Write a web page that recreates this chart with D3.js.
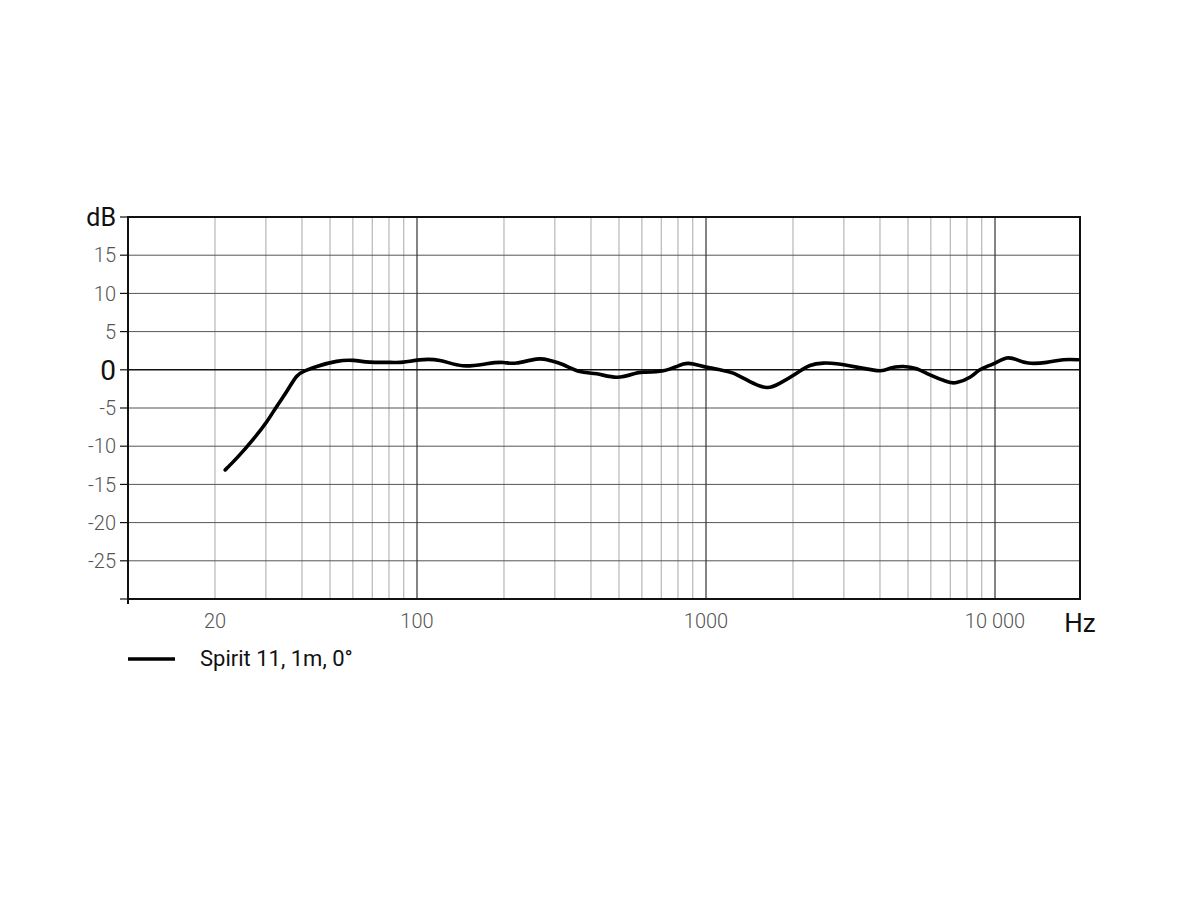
<!DOCTYPE html>
<html><head><meta charset="utf-8">
<script src="https://cdn.jsdelivr.net/npm/d3@7"></script>
<style>body{margin:0;background:#fff;} svg{display:block;}</style>
</head><body>
<script>
const freqs = [21.7,24.0,27.1,30.2,32.7,35.4,38.3,41.0,45.0,52.7,60.2,68.7,80.7,89.7,102,120,144,174,199,221,259,288,321,366,419,491,561,607,712,835,904,1000,1117,1241,1418,1622,1804,2059,2290,2546,2832,3321,3998,4331,4817,5356,5957,6805,7365,8190,8868,9865,10974,11880,13030,15090,17230,19410];
const dbValues = [-13.1,-11.4,-9.1,-6.8,-4.8,-2.85,-0.88,-0.13,0.44,1.1,1.23,1.0,0.97,1.0,1.3,1.22,0.53,0.79,0.96,0.88,1.4,1.22,0.66,-0.22,-0.53,-0.97,-0.53,-0.31,-0.13,0.75,0.75,0.35,0.0,-0.44,-1.54,-2.32,-1.75,-0.44,0.57,0.88,0.79,0.35,-0.13,0.22,0.44,0.13,-0.66,-1.54,-1.67,-0.97,0.0,0.79,1.54,1.32,0.88,0.97,1.32,1.32];
const yTicks = [15,10,5,0,-5,-10,-15,-20,-25];
const xTickValues = [20,100,1000,10000];
const xTickLabels = ["20","100","1000","10 000"];
const minorFreqs = [20,30,40,50,60,70,80,90,200,300,400,500,600,700,800,900,2000,3000,4000,5000,6000,7000,8000,9000];
const majorFreqs = [100,1000,10000];
const seriesName = "Spirit 11, 1m, 0°";

const W=1200,H=900;
const svg=d3.select("body").append("svg").attr("width",W).attr("height",H);
const L=128,R=1080,T=217,B=599;
const x=d3.scaleLog().domain([10,20000]).range([L,R+2]);
const y=d3.scaleLinear().domain([-30,20]).range([B,T]);
const font="Roboto, 'Noto Sans', sans-serif";

const g=svg.append("g");
g.selectAll(".vmin").data(minorFreqs).enter().append("line")
 .attr("x1",d=>x(d)).attr("x2",d=>x(d)).attr("y1",T).attr("y2",B)
 .attr("stroke","#a8a8a8").attr("stroke-width",1);
g.selectAll(".hg").data(yTicks.filter(d=>d!==0)).enter().append("line")
 .attr("x1",L).attr("x2",R).attr("y1",d=>y(d)).attr("y2",d=>y(d))
 .attr("stroke","#555").attr("stroke-width",1);
g.selectAll(".vmaj").data(majorFreqs).enter().append("line")
 .attr("x1",d=>x(d)).attr("x2",d=>x(d)).attr("y1",T).attr("y2",B)
 .attr("stroke","#333").attr("stroke-width",1.2);
g.append("line").attr("x1",L).attr("x2",R).attr("y1",y(0)).attr("y2",y(0))
 .attr("stroke","#111").attr("stroke-width",1.6);
g.append("rect").attr("x",L).attr("y",T).attr("width",R-L).attr("height",B-T)
 .attr("fill","none").attr("stroke","#111").attr("stroke-width",2);

g.selectAll(".lt").data(yTicks.concat([20,-30])).enter().append("line")
 .attr("x1",L-8).attr("x2",L).attr("y1",d=>y(d)).attr("y2",d=>y(d))
 .attr("stroke","#111").attr("stroke-width",1.2);
g.append("line").attr("x1",L).attr("x2",L).attr("y1",B).attr("y2",B+5).attr("stroke","#111").attr("stroke-width",2);

g.selectAll(".yl").data(yTicks).enter().append("text")
 .attr("x",L-12).attr("y",d=>y(d)).attr("dy","0.36em")
 .attr("text-anchor","end").attr("font-family",font)
 .attr("font-weight",d=>d===0?400:300)
 .attr("font-size",d=>d===0?28:20).attr("fill",d=>d===0?"#111":"#555")
 .text(d=>d);
g.append("text").attr("x",L-12).attr("y",y(20)).attr("dy","0.36em").attr("text-anchor","end")
 .attr("font-family",font).attr("font-size",25).attr("fill","#111").text("dB");

g.selectAll(".xl").data(xTickValues).enter().append("text")
 .attr("x",d=>x(d)).attr("y",B+29).attr("text-anchor","middle")
 .attr("font-family",font).attr("font-weight",300).attr("font-size",20).attr("fill","#555")
 .text((d,i)=>xTickLabels[i]);
g.append("text").attr("x",1080).attr("y",B+33).attr("text-anchor","middle")
 .attr("font-family",font).attr("font-size",26).attr("fill","#111").text("Hz");

const pts=freqs.map((f,i)=>[f,dbValues[i]]);
const line=d3.line().x(d=>x(d[0])).y(d=>y(d[1])).curve(d3.curveNatural);
g.append("path").datum(pts).attr("d",line).attr("fill","none")
 .attr("stroke","#000").attr("stroke-width",3.6).attr("stroke-linecap","round").attr("stroke-linejoin","round");

g.append("line").attr("x1",128).attr("x2",175).attr("y1",659).attr("y2",659)
 .attr("stroke","#000").attr("stroke-width",3.6);
g.append("text").attr("x",200).attr("y",666).attr("font-family",font).attr("font-size",22)
 .attr("fill","#111").text(seriesName);
</script>
</body></html>
